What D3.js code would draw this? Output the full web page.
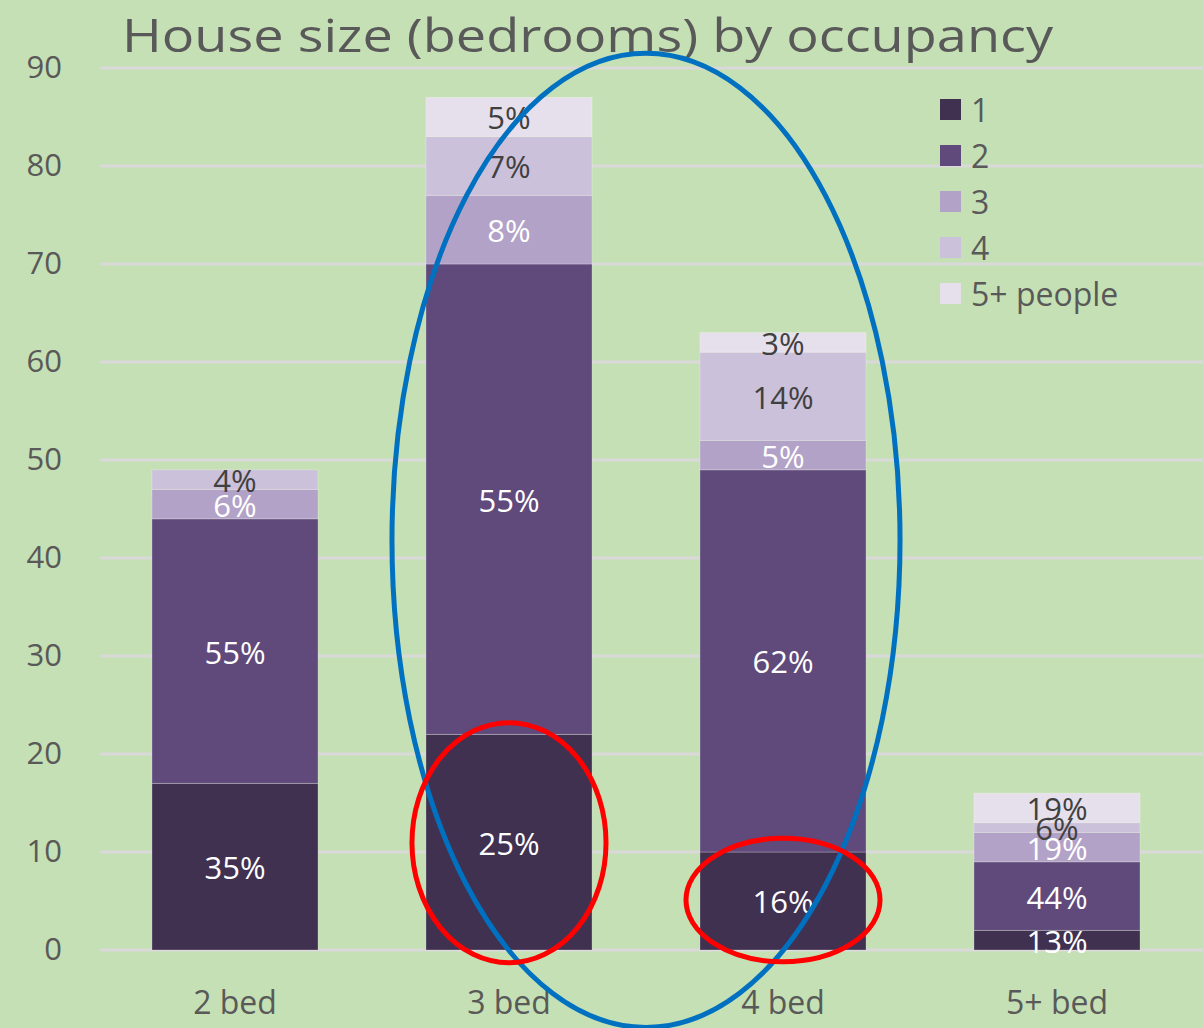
<!DOCTYPE html>
<html>
<head>
<meta charset="utf-8">
<script src="https://cdn.jsdelivr.net/npm/d3@7"></script>
<style>
  html, body { margin: 0; padding: 0; background: #c5e0b4; }
  text { font-family: "Open Sans", "Liberation Sans", sans-serif; }
</style>
</head>
<body>
<div id="chart"></div>
<script>
// house size (bedrooms) by occupancy — stacked counts
const categories = ["2 bed", "3 bed", "4 bed", "5+ bed"];
const seriesNames = ["1", "2", "3", "4", "5+ people"];
const people1 = [17, 22, 10, 2];
const people2 = [27, 48, 39, 7];
const people3 = [3, 7, 3, 3];
const people4 = [2, 6, 9, 1];
const people5 = [0, 4, 2, 3];
const yTicks = [0, 10, 20, 30, 40, 50, 60, 70, 80, 90];

// hand-drawn highlight rings: category span, value span
const rings = [
    { from: "3 bed", to: "4 bed", lo: -7.9, hi: 91.5, pad: 34, color: "#0070c0" },
    { from: "3 bed", to: "3 bed", lo: -1.3, hi: 23.2, pad: 14, color: "#ff0000" },
    { from: "4 bed", to: "4 bed", lo: -1.2, hi: 11.4, pad: 14, color: "#ff0000" }
];

const colors = ["#403151", "#604a7b", "#b3a2c7", "#ccc1da", "#e6e0ec"];
const labelColors = ["#ffffff", "#ffffff", "#ffffff", "#404040", "#404040"];

const width = 1203;
const height = 1028;

const rows = categories.map((c, i) => ({
    cat: c,
    s0: people1[i], s1: people2[i], s2: people3[i], s3: people4[i], s4: people5[i]
}));
const keys = ["s0", "s1", "s2", "s3", "s4"];
const stacked = d3.stack().keys(keys)(rows);

const svg = d3.select("#chart").append("svg")
    .attr("width", width)
    .attr("height", height);

svg.append("rect").attr("width", width).attr("height", height).attr("fill", "#c5e0b4");

const x = d3.scaleBand()
    .domain(categories)
    .range([98, 1194])
    .paddingInner(0.394)
    .paddingOuter(0.197);

const y = d3.scaleLinear()
    .domain([0, 90])
    .range([950, 68]);

// gridlines
svg.append("g")
    .selectAll("line")
    .data(yTicks)
    .enter()
    .append("line")
    .attr("x1", 100)
    .attr("x2", width)
    .attr("y1", d => y(d))
    .attr("y2", d => y(d))
    .attr("stroke", "#d9d9d9")
    .attr("stroke-width", 3);

// y axis labels
const yAxis = svg.append("g")
    .attr("transform", "translate(62,0)")
    .call(d3.axisLeft(y).tickValues(yTicks).tickSize(0).tickPadding(0));
yAxis.select(".domain").remove();
yAxis.selectAll("text")
    .attr("font-family", "Open Sans")
    .attr("font-size", 31)
    .attr("fill", "#595959");

// x axis labels
const xAxis = svg.append("g")
    .attr("transform", "translate(0,982)")
    .call(d3.axisBottom(x).tickSize(0).tickPadding(0));
xAxis.select(".domain").remove();
xAxis.selectAll("text")
    .attr("font-family", "Open Sans")
    .attr("font-size", 32)
    .attr("dy", "1em")
    .attr("fill", "#595959");

// bars
const layers = svg.append("g")
    .selectAll("g")
    .data(stacked)
    .enter()
    .append("g")
    .attr("fill", (d, i) => colors[i]);

layers.selectAll("rect")
    .data(d => d.filter(p => p[1] - p[0] > 0))
    .enter()
    .append("rect")
    .attr("x", d => x(d.data.cat))
    .attr("y", d => y(d[1]))
    .attr("width", x.bandwidth())
    .attr("height", d => y(d[0]) - y(d[1]))
    .attr("stroke", "rgba(255,255,255,0.25)")
    .attr("stroke-width", 1);

// percentage labels
stacked.forEach((layer, i) => {
    svg.append("g")
        .selectAll("text")
        .data(layer.filter(p => p[1] - p[0] > 0))
        .enter()
        .append("text")
        .attr("x", d => x(d.data.cat) + x.bandwidth() / 2)
        .attr("y", d => y((d[0] + d[1]) / 2))
        .attr("dy", "0.4em")
        .attr("text-anchor", "middle")
        .attr("font-size", 31)
        .attr("fill", labelColors[i])
        .text(d => {
            const total = keys.reduce((a, k) => a + d.data[k], 0);
            return Math.round((d[1] - d[0]) / total * 100) + "%";
        });
});

// legend
const legend = svg.append("g")
    .selectAll("g")
    .data(seriesNames)
    .enter()
    .append("g")
    .attr("transform", (d, i) => `translate(940,${110 + i * 46})`);

legend.append("rect")
    .attr("x", 0)
    .attr("y", -11)
    .attr("width", 21)
    .attr("height", 21)
    .attr("fill", (d, i) => colors[i]);

legend.append("text")
    .attr("x", 31)
    .attr("dy", "0.36em")
    .attr("font-size", 32)
    .attr("fill", "#595959")
    .text(d => d);

// title
svg.append("text")
    .attr("x", 122)
    .attr("y", 52)
    .attr("font-size", 46)
    .attr("fill", "#595959")
    .attr("textLength", 931)
    .attr("lengthAdjust", "spacingAndGlyphs")
    .text("House size (bedrooms) by occupancy");

// highlight rings
svg.append("g")
    .selectAll("ellipse")
    .data(rings)
    .enter()
    .append("ellipse")
    .attr("cx", d => (x(d.from) + x(d.to) + x.bandwidth()) / 2)
    .attr("cy", d => (y(d.lo) + y(d.hi)) / 2)
    .attr("rx", d => (x(d.to) - x(d.from) + x.bandwidth()) / 2 + d.pad)
    .attr("ry", d => (y(d.lo) - y(d.hi)) / 2)
    .attr("fill", "none")
    .attr("stroke", d => d.color)
    .attr("stroke-width", 5);
</script>
</body>
</html>
